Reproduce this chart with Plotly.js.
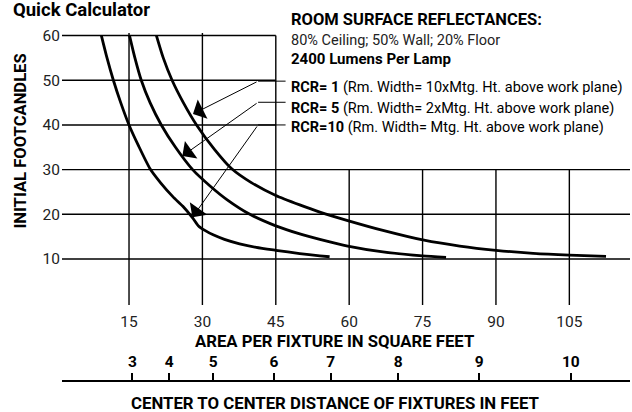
<!DOCTYPE html>
<html><head><meta charset="utf-8">
<script src="https://cdn.plot.ly/plotly-3.0.1.min.js"></script>
<style>html,body{margin:0;padding:0;background:#fff}</style>
</head><body><div id="chart" style="width:632px;height:412px"></div>
<script>
// ---- data ----
const areaTicks = [15, 30, 45, 60, 75, 90, 105];
const fcTicks = [10, 20, 30, 40, 50, 60];
const spacingLabels = ['3', '4', '5', '6', '7', '8', '9', '10'];
const spacingPos = [15.7, 23.2, 32.2, 44.6, 56.2, 70.0, 86.6, 105.3];

const rcr10Area = [9.35, 10.5, 11.8, 13.3, 15, 17, 19.3, 21.5, 24, 26, 28, 29.2, 30.5, 32.2, 34.5, 37.6, 41, 45, 49.9, 54, 56];
const rcr10Fc   = [60, 55, 50, 45, 40, 35.2, 30.2, 27.0, 23.9, 21.8, 19.2, 17.4, 16.4, 15.4, 14.4, 13.4, 12.6, 11.95, 11.2, 10.7, 10.5];

const rcr5Area = [15.1, 16.2, 17.5, 19.3, 21.6, 24.5, 28, 31.5, 35, 39.7, 45, 49.9, 54, 59.7, 66.9, 75, 79.8];
const rcr5Fc   = [60, 55, 50, 45, 40, 35, 30, 26.4, 23.3, 20, 17.4, 15.6, 14.4, 12.9, 11.6, 10.7, 10.35];

const rcr1Area = [20.6, 22, 23.8, 26.1, 28.8, 32.5, 36, 40, 45, 49.9, 54, 59.7, 66.9, 75.3, 82.6, 90, 97.6, 105, 112.5];
const rcr1Fc   = [60, 55, 50, 45, 40, 34.5, 30.2, 27.1, 24.2, 22.1, 20.5, 18.6, 16.4, 14.2, 12.9, 11.95, 11.25, 10.85, 10.6];

const titleText = 'Quick Calculator';
const headerLines = ['<b>ROOM SURFACE REFLECTANCES:</b>', '80% Ceiling; 50% Wall; 20% Floor', '<b>2400 Lumens Per Lamp</b>'];
const rcrLabels = ['<b>RCR= 1</b> (Rm. Width= 10xMtg. Ht. above work plane)',
                   '<b>RCR= 5</b> (Rm. Width= 2xMtg. Ht. above work plane)',
                   '<b>RCR=10</b> (Rm. Width= Mtg. Ht. above work plane)'];
const arrowTips = [[28.07, 42.44], [25.9, 33.05], [27.95, 19.33]];
const arrowTails = [[41.38, 49.8], [41.38, 45.07], [41.38, 40.0]];

// ---- layout helpers ----
const FONT = "Roboto, 'Liberation Sans', sans-serif";
const W = 632, H = 412, L = 62.4, R = 2, T = 32, B = 30;
const px = x => (x - L) / (W - L - R);
const py = y => (H - B - y) / (H - T - B);
const XR = [1.3, 117.4], YR = [-0.3, 60.8];

const lineStyle = {color: '#000', width: 2.8, shape: 'spline', smoothing: 0.6};
const traces = [
  {x: rcr10Area, y: rcr10Fc, mode: 'lines', line: lineStyle, hoverinfo: 'skip', showlegend: false},
  {x: rcr5Area, y: rcr5Fc, mode: 'lines', line: lineStyle, hoverinfo: 'skip', showlegend: false},
  {x: rcr1Area, y: rcr1Fc, mode: 'lines', line: lineStyle, hoverinfo: 'skip', showlegend: false},
  {x: [], y: [], xaxis: 'x2', yaxis: 'y', mode: 'lines', hoverinfo: 'skip', showlegend: false}
];

const shapes = [];
areaTicks.forEach(v => {
  const top = v <= 30 ? 60.6 : (v === 45 ? 60 : 30);
  shapes.push({type: 'line', xref: 'x', yref: 'y', x0: v, x1: v, y0: YR[0], y1: top, line: {color: '#000', width: 1.4}});
});
fcTicks.forEach(v => {
  const right = v >= 40 ? 45 : XR[1];
  shapes.push({type: 'line', xref: 'x', yref: 'y', x0: XR[0], x1: right, y0: v, y1: v, line: {color: '#000', width: 1.4}});
});
arrowTails.forEach(t => {
  shapes.push({type: 'line', xref: 'x', yref: 'y', x0: t[0], x1: 47.0, y0: t[1], y1: t[1], line: {color: '#000', width: 1}});
});

const annotations = [];
arrowTips.forEach((tip, i) => {
  annotations.push({xref: 'x', yref: 'y', axref: 'x', ayref: 'y', x: tip[0], y: tip[1],
    ax: arrowTails[i][0], ay: arrowTails[i][1], text: '', showarrow: true,
    arrowhead: 1, arrowsize: 3.6, arrowwidth: 1, arrowcolor: '#000'});
});
const txt = (text, x, y, size, extra) => Object.assign({xref: 'paper', yref: 'paper', x: px(x), y: py(y),
  xanchor: 'left', yanchor: 'middle', showarrow: false, text: text,
  font: {family: FONT, size: size, color: '#000'}}, extra || {});
annotations.push(txt('<b>' + titleText + '</b>', 11, 10, 18.5));
annotations.push(txt(headerLines[0], 289, 19, 16.5));
annotations.push(txt(headerLines[1], 289, 40, 14.5, {font: {family: FONT, size: 14.5, color: '#222'}}));
annotations.push(txt(headerLines[2], 289, 59, 15));
const ry = [87, 108, 128];
rcrLabels.forEach((t, i) => annotations.push(txt(t, 289, ry[i], 14.5)));
annotations.push(txt('<b>INITIAL FOOTCANDLES</b>', 20, 141, 16.6, {xanchor: 'center', textangle: -90}));
annotations.push(txt('<b>AREA PER FIXTURE IN SQUARE FEET</b>', 335, 341, 16.7, {xanchor: 'center'}));
annotations.push(txt('<b>CENTER TO CENTER DISTANCE OF FIXTURES IN FEET</b>', 336, 403, 16.8, {xanchor: 'center'}));

const layout = {
  width: W, height: H,
  margin: {l: L, r: R, t: T, b: B, pad: 0},
  paper_bgcolor: '#fff', plot_bgcolor: 'rgba(0,0,0,0)',
  showlegend: false,
  font: {family: FONT, color: '#000'},
  xaxis: {domain: [0, 1], range: XR, anchor: 'y', showgrid: false, zeroline: false, showline: false,
          ticks: '', tickvals: areaTicks, ticktext: areaTicks.map(String),
          tickfont: {family: FONT, size: 15.5, color: '#222'}, ticklabelstandoff: 5, fixedrange: true},
  xaxis2: {overlaying: 'x', range: XR, anchor: 'free', position: py(381), side: 'top',
           showgrid: false, zeroline: false, showline: true, linecolor: '#000', linewidth: 2,
           ticks: 'outside', ticklen: 7, tickwidth: 2, tickcolor: '#000',
           tickvals: spacingPos, ticktext: spacingLabels,
           tickfont: {family: FONT, size: 15.5, color: '#000', weight: 'bold'}, fixedrange: true},
  yaxis: {domain: [py(305), 1], range: YR, showgrid: false, zeroline: false, showline: false,
          ticks: '', tickvals: fcTicks, ticktext: fcTicks.map(String),
          tickfont: {family: FONT, size: 15.5, color: '#222'}, ticklabelstandoff: 1, fixedrange: true},
  shapes: shapes,
  annotations: annotations
};

Plotly.newPlot('chart', traces, layout, {displayModeBar: false, staticPlot: true});
</script></body></html>
